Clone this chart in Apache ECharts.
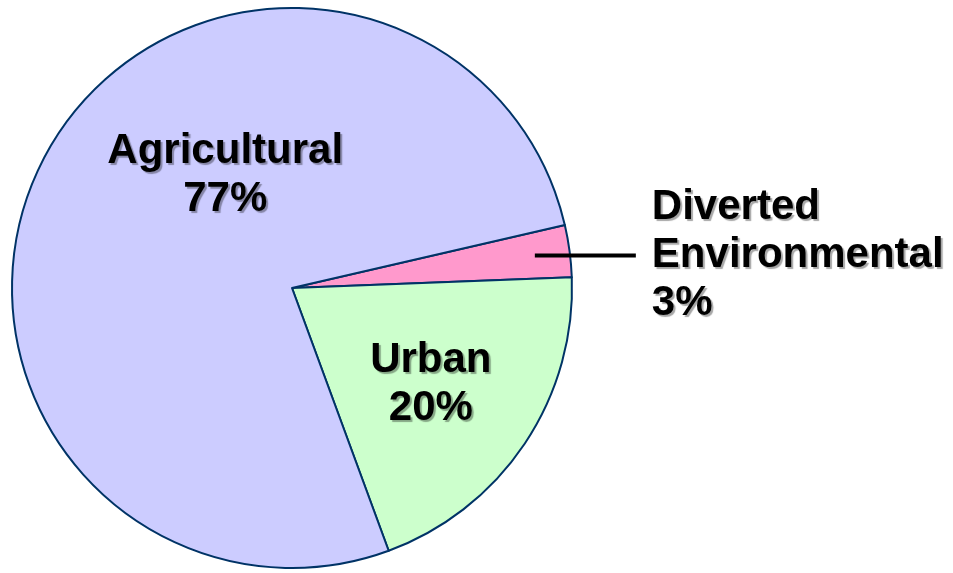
<!DOCTYPE html>
<html>
<head>
<meta charset="utf-8">
<script src="https://cdn.jsdelivr.net/npm/echarts@6/dist/echarts.min.js"></script>
<style>
html,body{margin:0;padding:0;background:#fff;}
#chart{width:953px;height:573px;}
</style>
</head>
<body>
<div id="chart"></div>
<script>
const categories = ['Diverted Environmental', 'Urban', 'Agricultural'];
const values = [3, 20, 77];
const colors = ['#FF99CC', '#CCFFCC', '#CCCCFF'];

const CX = 292, CY = 288, R = 280, START_ANGLE = 13;
const LEADER_START = 0.875, LEADER_LEN = 101, LABEL_GAP = 16;
const chart = echarts.init(document.getElementById('chart'), null, {renderer: 'canvas'});

const textStyle = {
  fontFamily: 'Liberation Sans, Arial, sans-serif',
  fontWeight: 'bold',
  fontSize: 42,
  lineHeight: 48,
  color: '#000',
  textShadowColor: 'rgba(0,0,0,0.35)',
  textShadowOffsetX: 2,
  textShadowOffsetY: 2,
  textShadowBlur: 1
};

// leader line geometry from the first slice's mid-angle (same rule the pie layout uses)
const total = values.reduce((a, b) => a + b, 0);
const midDeg = START_ANGLE - values[0] / total * 360 / 2;
const midRad = midDeg * Math.PI / 180;
const lsx = CX + R * LEADER_START * Math.cos(midRad);
const lsy = CY - R * LEADER_START * Math.sin(midRad);
const lex = lsx + LEADER_LEN;

chart.setOption({
  animation: false,
  graphic: [{
    type: 'line',
    z: 100,
    shape: {x1: lsx, y1: lsy, x2: lex, y2: lsy},
    style: {stroke: '#000', lineWidth: 4}
  }],
  series: [{
    type: 'pie',
    center: [CX, CY],
    radius: [0, R],
    startAngle: START_ANGLE,
    clockwise: true,
    percentPrecision: 0,
    avoidLabelOverlap: false,
    emphasis: {disabled: true},
    itemStyle: {borderColor: '#003366', borderWidth: 2},
    data: categories.map((c, i) => ({
      name: c,
      value: values[i],
      itemStyle: {color: colors[i]},
      label: i === 0 ? {
        show: true, position: 'outside', align: 'left', ...textStyle
      } : {
        show: true, position: 'inside', align: 'center', ...textStyle
      },
      labelLine: {show: false}
    })),
    label: {
      formatter: p => p.name.split(' ').join('\n') + '\n' + p.percent + '%'
    },
    labelLayout: function (params) {
      if (params.dataIndex === 0) {
        return {x: lex + LABEL_GAP, y: lsy, align: 'left', verticalAlign: 'middle'};
      }
      if (params.dataIndex === 2) {
        return {dx: 59, dy: -45};
      }
      return {dx: 20, dy: 17};
    }
  }]
});
</script>
</body>
</html>
